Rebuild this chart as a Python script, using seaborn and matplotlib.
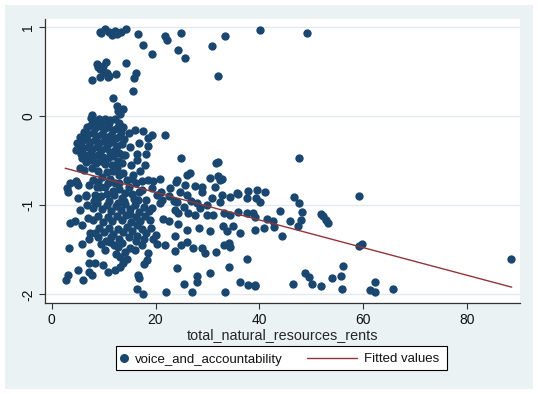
import numpy as np
import pandas as pd
import matplotlib
matplotlib.use("Agg")
import matplotlib.pyplot as plt
from matplotlib.patches import Rectangle
from matplotlib.lines import Line2D
import seaborn as sns

# ---- data (x = total_natural_resources_rents, y = voice_and_accountability) ----
top_group = [
    (9.5, 0.94), (10.3, 0.98), (11.7, 0.91), (12.2, 0.96), (13.4, 0.95), (14.4, 0.98), (11.0, 0.95),
    (12.6, 0.93), (9.3, 0.95), (16.7, 0.92), (17.5, 0.80), (19.3, 0.70), (21.8, 0.90), (22.2, 0.86),
    (25.0, 0.94), (24.4, 0.75), (25.7, 0.65), (30.9, 0.79), (33.4, 0.90), (32.1, 0.45), (40.1, 0.97),
    (49.2, 0.94),
    (8.7, 0.59), (10.5, 0.61), (9.3, 0.53), (10.6, 0.49), (9.3, 0.44), (7.7, 0.41), (10.9, 0.44),
    (12.3, 0.47), (14.4, 0.60), (16.2, 0.49), (15.9, 0.43), (15.7, 0.28), (11.9, 0.20), (9.0, 0.55),
    (9.8, 0.57), (10.0, 0.50), (11.1, 0.45), (12.5, 0.12), (13.8, 0.08), (13.2, 0.03), (12.8, 0.06),
    (7.7, 0.01), (10.3, -0.03), (11.2, -0.04),
]

core_upper = [
    (7.6, -0.02), (8.2, -0.06), (9.1, -0.03), (10.2, -0.05), (11.0, -0.08), (12.2, -0.03), (13.0, -0.07),
    (13.7, -0.12), (6.8, -0.12), (7.5, -0.10), (8.4, -0.13), (9.3, -0.11), (10.1, -0.14), (10.9, -0.12),
    (11.8, -0.15), (12.6, -0.13), (13.4, -0.18), (14.8, -0.19), (16.0, -0.15), (17.5, -0.17),
    (6.2, -0.18), (7.0, -0.20), (7.9, -0.19), (8.8, -0.22), (9.7, -0.20), (10.5, -0.23), (11.4, -0.21),
    (12.3, -0.24), (13.1, -0.22), (14.0, -0.26), (5.5, -0.23), (5.9, -0.28), (6.6, -0.26), (7.4, -0.29),
    (8.3, -0.27), (9.2, -0.30), (10.0, -0.28), (10.8, -0.31), (11.7, -0.29), (12.6, -0.33), (13.5, -0.31),
    (4.8, -0.30), (5.2, -0.34), (6.0, -0.36), (6.9, -0.34), (7.8, -0.37), (8.7, -0.35), (9.5, -0.38),
    (10.4, -0.36), (11.2, -0.40), (12.1, -0.38), (13.0, -0.41), (14.1, -0.43), (4.7, -0.38), (5.6, -0.42),
    (6.4, -0.44), (7.3, -0.42), (8.1, -0.45), (9.0, -0.43), (9.9, -0.46), (10.9, -0.47), (11.8, -0.45),
    (12.7, -0.50), (13.5, -0.53), (5.8, -0.47), (6.7, -0.51), (7.6, -0.49), (8.5, -0.52), (9.4, -0.50),
    (10.3, -0.54), (11.6, -0.55), (12.5, -0.58), (5.5, -0.58), (6.3, -0.60), (7.7, -0.58), (8.9, -0.61),
    (9.6, -0.68), (10.7, -0.63), (11.9, -0.62), (12.9, -0.66), (13.8, -0.64), (16.9, -0.30), (16.4, -0.42),
    (18.1, -0.42), (16.4, -0.49), (19.3, -0.21), (18.6, -0.24), (21.8, -0.21), (18.5, -0.33), (17.9, -0.55),
    (17.0, -0.62), (15.7, -0.66), (13.8, -0.43), (15.0, -0.35), (15.2, -0.55),
]

core_lower = [
    (2.9, -0.81), (3.2, -0.85), (4.7, -0.73), (5.1, -0.77), (3.5, -0.75), (4.8, -0.75), (7.1, -0.77),
    (8.7, -0.79), (9.3, -0.79), (10.9, -0.75), (12.2, -0.75), (14.5, -0.72), (15.4, -0.70), (16.2, -0.75),
    (17.3, -0.73), (18.6, -0.72), (19.6, -0.73), (6.6, -0.90), (5.1, -0.92), (6.7, -0.88), (8.3, -0.88),
    (9.0, -0.92), (10.6, -0.87), (11.8, -0.84), (12.9, -0.82), (13.5, -0.92), (14.2, -0.86), (15.4, -0.87),
    (16.7, -0.94), (17.3, -0.83), (18.2, -0.94), (19.3, -0.81), (20.3, -0.88), (21.2, -0.94),
    (5.5, -1.05), (6.8, -1.00), (7.9, -1.03), (8.8, -0.98), (9.7, -1.04), (10.6, -1.00), (11.5, -1.06),
    (12.4, -1.01), (13.3, -1.05), (14.2, -0.99), (15.1, -1.04), (16.0, -1.00), (16.9, -1.07), (17.8, -1.02),
    (18.7, -1.06), (19.3, -1.03), (3.5, -1.20), (4.4, -1.18), (5.8, -1.22), (7.0, -1.14), (8.0, -1.17),
    (9.0, -1.12), (9.9, -1.19), (10.8, -1.13), (11.7, -1.18), (12.6, -1.12), (13.5, -1.16), (14.4, -1.11),
    (15.3, -1.19), (16.2, -1.13), (17.1, -1.18), (18.0, -1.12), (18.9, -1.17), (7.4, -1.31), (8.3, -1.31),
    (9.2, -1.26), (10.1, -1.30), (11.0, -1.25), (11.9, -1.32), (12.8, -1.27), (13.7, -1.30), (14.6, -1.24),
    (15.5, -1.29), (16.4, -1.34), (17.3, -1.27), (18.2, -1.31), (19.1, -1.26), (20.0, -1.33),
    (7.1, -1.38), (5.8, -1.43), (3.3, -1.48), (9.5, -1.43), (11.2, -1.41), (12.8, -1.47), (14.1, -1.52),
    (15.1, -1.48), (13.0, -1.38), (16.2, -1.40), (17.4, -1.45), (18.6, -1.54), (18.3, -1.61), (20.2, -1.43),
    (19.5, -1.38), (7.4, -1.54), (7.1, -1.65), (8.3, -1.65), (9.9, -1.67), (5.1, -1.73), (7.1, -1.75),
    (7.7, -1.78), (6.1, -1.84), (3.1, -1.78), (2.7, -1.84), (10.9, -1.75), (12.2, -1.73), (13.2, -1.69),
    (13.8, -1.65), (16.7, -1.78), (16.8, -1.82), (16.4, -1.94), (17.5, -2.00), (14.6, -1.60), (17.8, -1.66),
    (8.0, -0.72), (9.0, -0.74), (10.2, -0.80), (11.3, -0.70), (12.0, -0.88), (13.0, -0.75), (14.8, -0.80),
    (15.8, -0.93), (16.8, -0.85), (8.2, -0.95), (9.5, -0.90), (11.0, -0.95), (12.7, -0.97), (14.0, -0.95),
    (15.0, -1.10), (16.5, -1.22), (17.7, -1.38), (10.5, -1.40), (12.0, -1.45), (13.5, -1.42), (9.0, -1.36),
    (11.5, -1.36), (14.9, -1.36), (16.0, -1.50), (10.2, -1.50), (12.3, -1.55), (13.2, -1.58),
]

mid_group = [
    (25.0, -0.47), (32.1, -0.51), (31.6, -0.53), (26.6, -0.64), (26.0, -0.66), (30.5, -0.69), (32.1, -0.67),
    (32.8, -0.70), (32.4, -0.72), (24.1, -0.72), (23.9, -0.74), (20.9, -0.70), (22.7, -0.81), (27.6, -0.78),
    (28.9, -0.79), (25.7, -0.77), (24.7, -0.85), (26.0, -0.88), (30.8, -0.92), (32.8, -0.88), (34.4, -0.91),
    (35.8, -0.87), (37.9, -0.84), (37.7, -0.92), (39.4, -0.92), (24.1, -0.96), (27.9, -0.97),
    (32.4, -0.96), (35.6, -0.86), (20.9, -0.98), (21.5, -1.15), (22.5, -1.18), (23.8, -1.05), (24.4, -1.09),
    (26.3, -1.09), (27.6, -1.11), (29.9, -1.11), (31.1, -1.11), (33.1, -1.09), (34.4, -1.11), (35.9, -1.08),
    (37.6, -1.09), (38.8, -1.09), (24.4, -1.21), (26.0, -1.28), (28.4, -1.26), (30.5, -1.29), (32.9, -1.23),
    (33.8, -1.29), (35.0, -1.23), (36.3, -1.31), (23.8, -1.34), (25.0, -1.45), (26.0, -1.41),
    (27.3, -1.48), (28.9, -1.48), (29.5, -1.54), (31.7, -1.53), (33.1, -1.45), (34.2, -1.42), (34.4, -1.47),
    (23.8, -1.51), (21.8, -1.45), (37.6, -1.60), (24.1, -1.70), (30.4, -1.76), (34.2, -1.69), (27.9, -1.80),
    (27.9, -1.86), (25.5, -1.88), (22.0, -1.97), (27.1, -1.97), (33.4, -1.97), (36.3, -1.86), (37.8, -1.90),
    (39.2, -1.91), (21.0, -0.85), (22.5, -0.90), (23.5, -0.95), (29.0, -0.85), (30.0, -1.00), (28.5, -1.03),
    (25.5, -1.02), (31.5, -0.80), (26.8, -0.95),
]

right_group = [
    (47.7, -0.47), (39.5, -0.83), (41.0, -0.85), (40.1, -0.96), (46.6, -0.91), (47.7, -0.97), (59.1, -0.90),
    (44.0, -1.06), (48.2, -1.08), (48.0, -1.17), (45.9, -1.18), (47.5, -1.23), (51.8, -1.10), (52.3, -1.12),
    (52.8, -1.16), (53.3, -1.20), (41.4, -1.15), (42.7, -1.18), (42.9, -1.24), (40.8, -1.25), (39.2, -1.13),
    (39.2, -1.28), (44.3, -1.34), (59.1, -1.46), (59.7, -1.43), (56.2, -1.68), (48.7, -1.76), (49.6, -1.81),
    (50.2, -1.88), (51.8, -1.91), (54.0, -1.82), (55.8, -1.79), (56.0, -1.94), (46.4, -1.89), (39.2, -1.90),
    (62.3, -1.86), (61.3, -1.95), (62.2, -1.98), (65.8, -1.94), (88.5, -1.60),
]

fit_x = [2.6, 88.6]
fit_y = [-0.584, -1.92]

x_ticks = [0, 20, 40, 60, 80]
y_ticks = [-2, -1, 0, 1]
x_label = "total_natural_resources_rents"
legend_labels = ["voice_and_accountability", "Fitted values"]

points = top_group + core_upper + core_lower + mid_group + right_group
df = pd.DataFrame(points, columns=["rents", "voice"])
fit_df = pd.DataFrame({"rents": fit_x, "fit": fit_y})

# ---- style ----
sns.set_theme(style="white")
plt.rcParams["font.family"] = ["Liberation Sans", "DejaVu Sans"]

NAVY = "#1A476F"
MAROON = "#90353B"
BG = "#EAF2F3"
W, H = 538, 394

fig = plt.figure(figsize=(W / 100, H / 100), dpi=100, facecolor="white")


def fx(px):
    return px / W


def fy(py):
    return 1 - py / H


fig.patches.append(Rectangle((fx(5), fy(389)), 528 / W, 384 / H, transform=fig.transFigure,
                             facecolor=BG, edgecolor="none", zorder=-10))
ax = fig.add_axes([fx(45), fy(303), 475 / W, 284 / H])
ax.set_zorder(1)
ax.set_facecolor("white")

sns.scatterplot(data=df, x="rents", y="voice", ax=ax, color=NAVY, s=36, linewidth=0, zorder=3, legend=False)
sns.lineplot(data=fit_df, x="rents", y="fit", ax=ax, color=MAROON, linewidth=1.0, zorder=4, legend=False)

ax.set_xlim(-1.29, 90.2)
ax.set_ylim(-2.098, 1.093)
ax.set_xticks(x_ticks)
ax.set_yticks(y_ticks)
ax.set_xticklabels([str(t) for t in x_ticks], fontsize=10)
ax.set_yticklabels([str(t) for t in y_ticks], fontsize=10, rotation=90, va="center")
ax.set_xlabel(x_label, fontsize=10.4, labelpad=1)
ax.set_ylabel("")
ax.grid(axis="y", color="#E1EAEC", linewidth=1.0, zorder=0)
ax.grid(axis="x", visible=False)
for side in ["top", "right"]:
    ax.spines[side].set_visible(False)
for side in ["left", "bottom"]:
    ax.spines[side].set_color("#333333")
    ax.spines[side].set_linewidth(0.9)
ax.tick_params(axis="both", which="major", length=4, width=0.8, color="#333333", labelcolor="#111111",
               direction="out", left=True, bottom=True, pad=3)

# ---- manual legend (Stata style) ----
fig.patches.append(Rectangle((fx(116), fy(370)), (447 - 116) / W, 24 / H, transform=fig.transFigure,
                             facecolor="white", edgecolor="black", linewidth=0.8, zorder=5))
fig.lines.append(Line2D([fx(124)], [fy(358)], transform=fig.transFigure, marker="o", linestyle="none",
                        markersize=6.5, markerfacecolor=NAVY, markeredgewidth=0, zorder=6))
fig.text(fx(135), fy(358), legend_labels[0], fontsize=9.5, va="center_baseline", ha="left",
         color="#111111", zorder=6)
fig.lines.append(Line2D([fx(307), fx(357)], [fy(358), fy(358)], transform=fig.transFigure,
                        color=MAROON, linewidth=1.0, zorder=6))
fig.text(fx(364), fy(358), legend_labels[1], fontsize=9.5, va="center_baseline", ha="left",
         color="#111111", zorder=6)

fig.savefig("out.png", dpi=100, facecolor=fig.get_facecolor())
